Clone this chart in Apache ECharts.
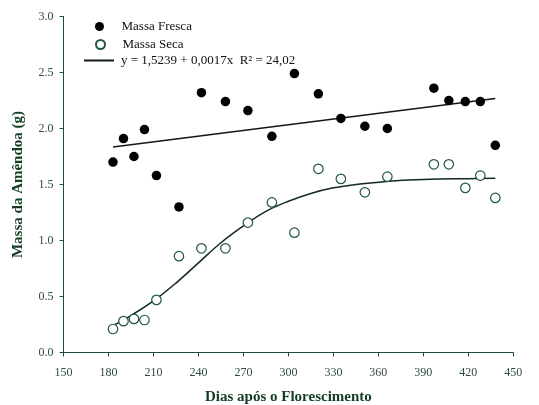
<!DOCTYPE html>
<html>
<head>
<meta charset="utf-8">
<script src="https://cdn.jsdelivr.net/npm/echarts@6/dist/echarts.min.js"></script>
<style>
  html, body { margin: 0; padding: 0; background: #fff; }
  #chart { width: 539px; height: 405px; }
</style>
</head>
<body>
<div id="chart"></div>
<script>
// Days after flowering at each sampling date
const dias = [183, 190, 197, 204, 212, 227, 242, 258, 273, 289, 304, 320, 335, 351, 366, 397, 407, 418, 428, 438];
// Fresh and dry kernel mass (g)
const massaFresca = [1.70, 1.91, 1.75, 1.99, 1.58, 1.30, 2.32, 2.24, 2.16, 1.93, 2.49, 2.31, 2.09, 2.02, 2.00, 2.36, 2.25, 2.24, 2.24, 1.85];
const massaSeca   = [0.21, 0.28, 0.30, 0.29, 0.47, 0.86, 0.93, 0.93, 1.16, 1.34, 1.07, 1.64, 1.55, 1.43, 1.57, 1.68, 1.68, 1.47, 1.58, 1.38];
// Linear fit for fresh mass: y = 1,5239 + 0,0017x (end points)
const retaX = [183, 438];
const retaY = [1.835, 2.268];
// Fitted growth curve for dry mass
const curvaX = [183, 195, 210, 225, 240, 255, 270, 285, 300, 315, 330, 345, 360, 380, 400, 420, 438];
const curvaY = [0.24, 0.33, 0.46, 0.62, 0.80, 0.98, 1.13, 1.26, 1.35, 1.42, 1.47, 1.50, 1.52, 1.54, 1.55, 1.552, 1.555];
// Axis ticks
const xTicks = [150, 180, 210, 240, 270, 300, 330, 360, 390, 420, 450];
const yTicks = [0.0, 0.5, 1.0, 1.5, 2.0, 2.5, 3.0];

const nomeFresca = 'Massa Fresca';
const nomeSeca = 'Massa Seca';
const nomeReta = 'y = 1,5239 + 0,0017x  R\u00B2 = 24,02';

const pares = (xs, ys) => xs.map((x, i) => [x, ys[i]]);

const serif = '"Liberation Serif", "DejaVu Serif", serif';
const corEixo = '#1d4a40';
const corTexto = '#2f4a3c';
const corTitulo = '#123d22';
const corVerde = '#1f5642';
const corReta = '#0e1a14';

const legendaBase = {
  orient: 'vertical',
  itemWidth: 30,
  itemHeight: 9,
  padding: 0,
  selectedMode: false,
  textStyle: { fontFamily: serif, fontSize: 13, color: '#111', padding: [0, 0, 0, 2] }
};

const chart = echarts.init(document.getElementById('chart'), null, { renderer: 'canvas' });
chart.setOption({
  animation: false,
  backgroundColor: '#ffffff',
  grid: { left: 63.5, right: 25.7, top: 16.5, bottom: 52.5, containLabel: false, outerBoundsMode: 'none' },
  legend: [
    Object.assign({}, legendaBase, { left: 95, top: 20, data: [{ name: nomeFresca, icon: 'circle' }] }),
    Object.assign({}, legendaBase, { left: 95, top: 38, data: [{ name: nomeSeca, icon: 'circle' }] }),
    Object.assign({}, legendaBase, {
      left: 84, top: 53, itemHeight: 2,
      data: [{ name: nomeReta, icon: 'rect', itemStyle: { color: corReta } }],
      textStyle: { fontFamily: serif, fontSize: 13, color: '#111', padding: [0, 0, 0, 2], lineHeight: 15 }
    })
  ],
  xAxis: {
    type: 'value',
    min: xTicks[0],
    max: xTicks[xTicks.length - 1],
    interval: 30,
    name: 'Dias após o Florescimento',
    nameLocation: 'middle',
    nameGap: 37,
    nameTextStyle: { fontFamily: serif, fontSize: 15, fontWeight: 'bold', color: corTitulo, verticalAlign: 'top' },
    axisLine: { show: true, onZero: false, lineStyle: { color: corEixo, width: 1 } },
    axisTick: { show: true, inside: false, length: 4, lineStyle: { color: corEixo } },
    axisLabel: { margin: 14, fontFamily: serif, fontSize: 12, color: corTexto },
    splitLine: { show: false }
  },
  yAxis: {
    type: 'value',
    min: yTicks[0],
    max: yTicks[yTicks.length - 1],
    interval: 0.5,
    name: 'Massa da Amêndoa (g)',
    nameLocation: 'middle',
    nameGap: 38,
    nameRotate: 90,
    nameTextStyle: { fontFamily: serif, fontSize: 15, fontWeight: 'bold', color: corTitulo },
    axisLine: { show: true, onZero: false, lineStyle: { color: corEixo, width: 1 } },
    axisTick: { show: true, inside: false, length: 4, lineStyle: { color: corEixo } },
    axisLabel: { margin: 10, fontFamily: serif, fontSize: 12, color: corTexto, formatter: v => v.toFixed(1) },
    splitLine: { show: false }
  },
  series: [
    {
      name: nomeReta,
      type: 'line',
      data: pares(retaX, retaY),
      symbol: 'none',
      lineStyle: { color: corReta, width: 1.6 },
      itemStyle: { color: corReta },
      z: 2
    },
    {
      name: 'curva seca',
      type: 'line',
      data: pares(curvaX, curvaY),
      symbol: 'none',
      smooth: 0.4,
      lineStyle: { color: '#0f2a1e', width: 1.5 },
      z: 2
    },
    {
      name: nomeFresca,
      type: 'scatter',
      data: pares(dias, massaFresca),
      symbol: 'circle',
      symbolSize: 9.5,
      itemStyle: { color: '#000', opacity: 1 },
      z: 3
    },
    {
      name: nomeSeca,
      type: 'scatter',
      data: pares(dias, massaSeca),
      symbol: 'circle',
      symbolSize: 9.5,
      itemStyle: { color: '#ffffff', borderColor: corVerde, borderWidth: 1.2, opacity: 1 },
      z: 3
    }
  ]
});
</script>
</body>
</html>
